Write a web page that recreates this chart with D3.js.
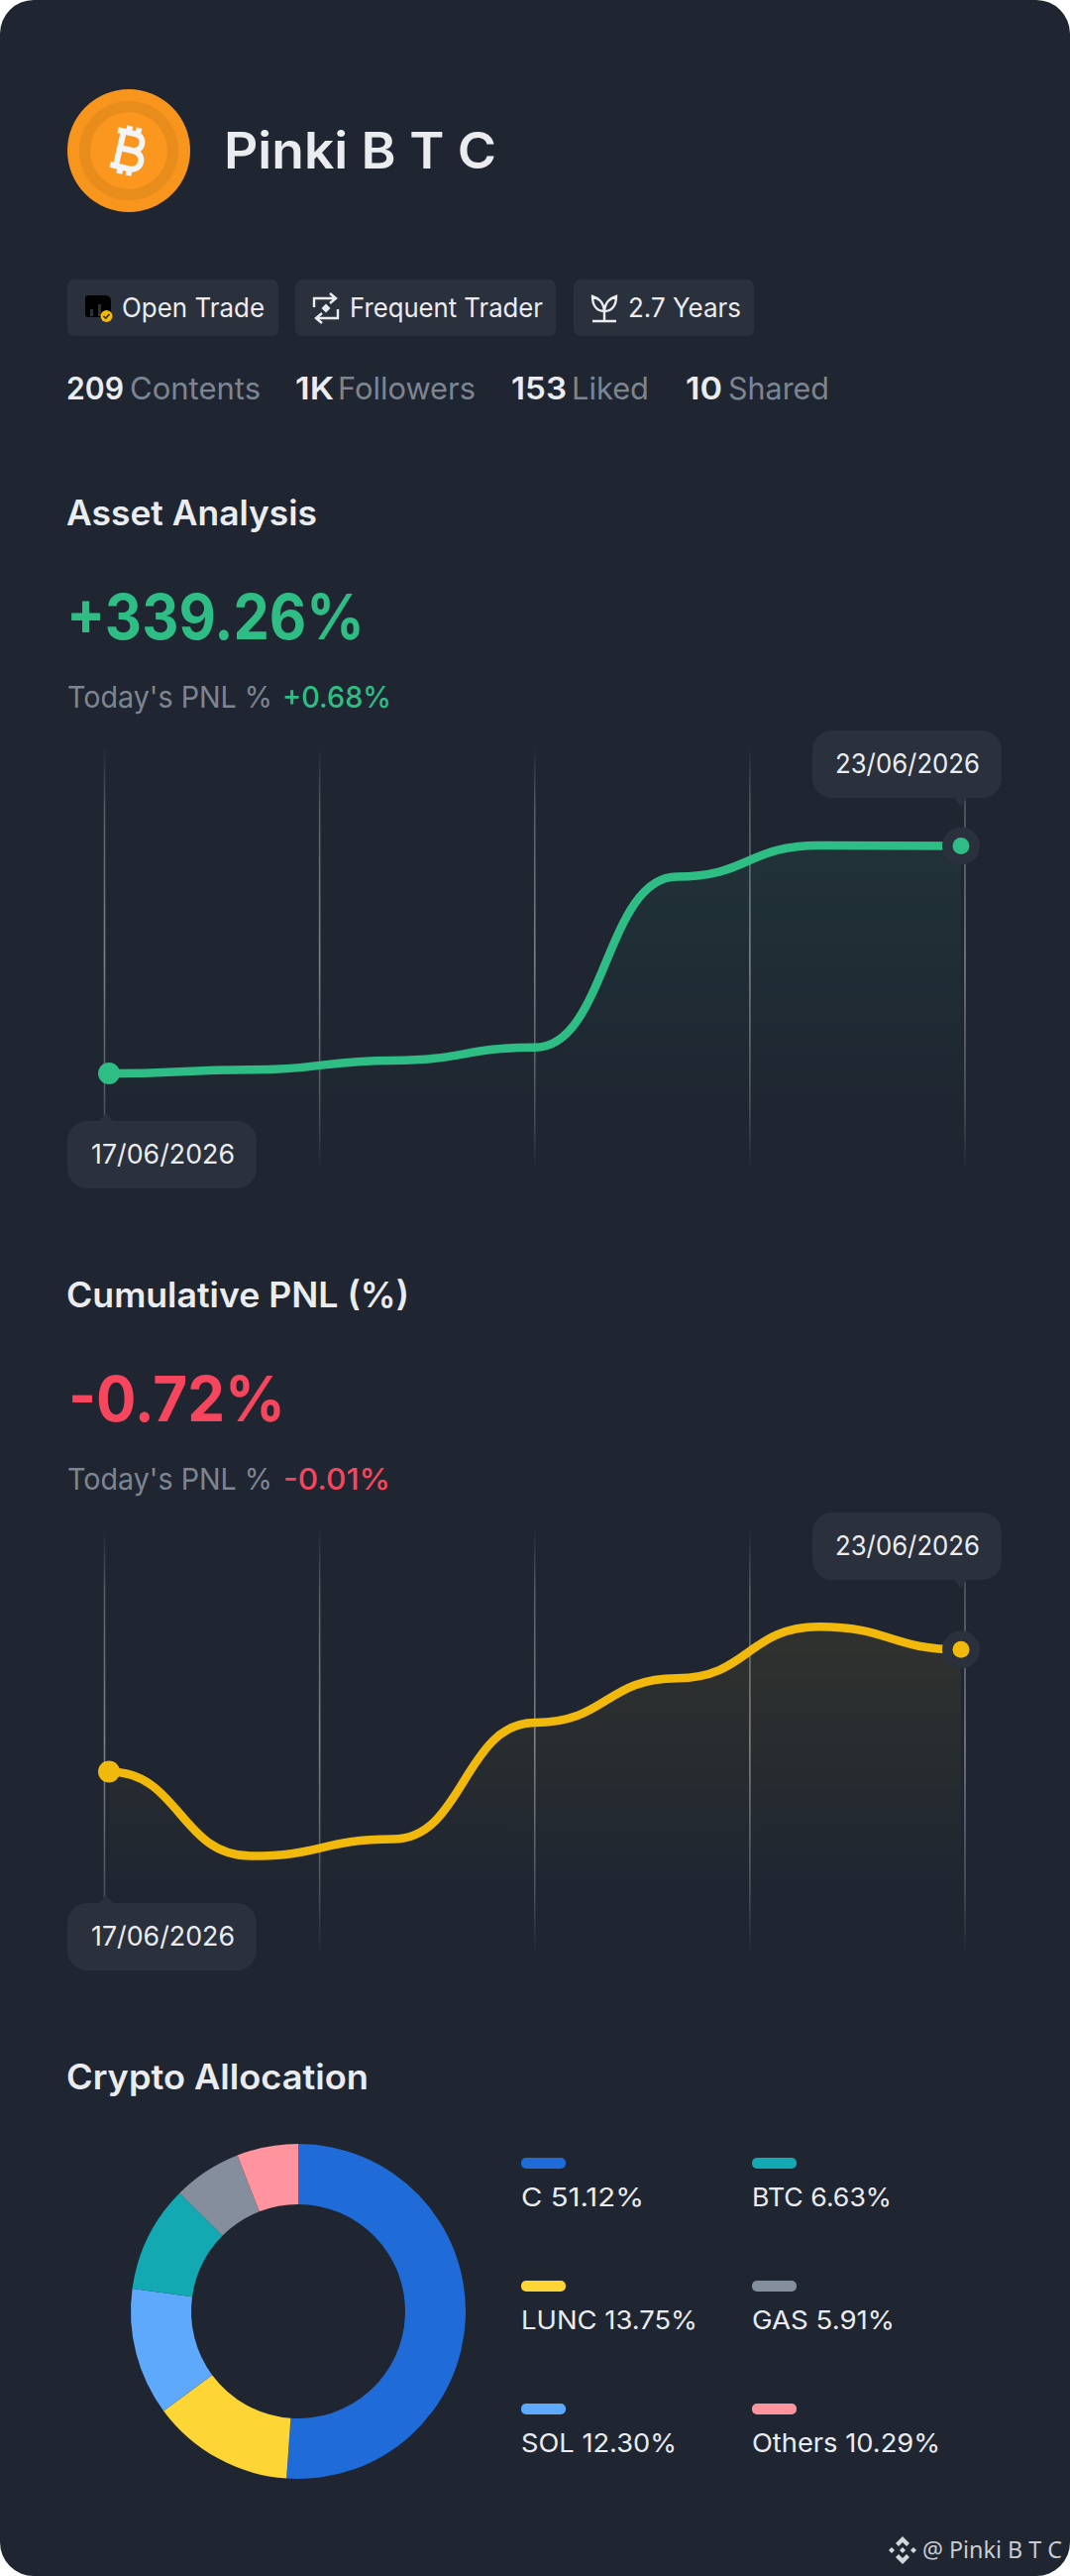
<!DOCTYPE html>
<html>
<head>
<meta charset="utf-8">
<script src="https://cdnjs.cloudflare.com/ajax/libs/d3/7.8.5/d3.min.js"></script>
<style>
  html, body { margin: 0; padding: 0; background: #fff; }
  svg { display: block; }
  text { font-family: Inter, Lato, sans-serif; }
</style>
</head>
<body>
<div id="chart"></div>
<script>
// data
const profileName = "Pinki B T C";
const badgeLabels = ["Open Trade", "Frequent Trader", "2.7 Years"];
const statValues = ["209", "1K", "153", "10"];
const statLabels = ["Contents", "Followers", "Liked", "Shared"];

const days = ["17/06", "18/06", "19/06", "20/06", "21/06", "22/06", "23/06"];
const gridSteps = [0, 1, 2, 3, 4];
const assetValues = [0, 1.6, 5.7, 11.4, 86.3, 100, 99.8];
const pnlValues = [-0.7735, -0.8104, -0.803, -0.752, -0.7325, -0.71, -0.72];

const sliceNames = ["C", "LUNC", "SOL", "Others", "BTC", "GAS"];
const sliceValues = [51.12, 13.75, 12.3, 10.29, 6.63, 5.91];
const sliceColors = ["#1f6cd8", "#fdd535", "#5ea9fb", "#12a9b3", "#848e9c", "#ff949f"];

const legendNames = ["C", "LUNC", "SOL", "BTC", "GAS", "Others"];
const legendValues = ["51.12%", "13.75%", "12.30%", "6.63%", "5.91%", "10.29%"];
const legendColors = ["#1f6cd8", "#fdd535", "#5ea9fb", "#12a9b3", "#848e9c", "#ff949f"];

////////////////////////////  Init  ////////////////////////////
const width = 1080;
const height = 2599;
const bg = "#1f2631";
const chip = "#2a303c";
const white = "#eaecef";
const muted = "#7d8592";
const green = "#2ebd85";
const red = "#f6465d";
const yellow = "#f0b90b";

const svg = d3.select("#chart").append("svg")
  .attr("width", width)
  .attr("height", height);
const defs = svg.append("defs");

svg.append("rect")
  .attr("width", width)
  .attr("height", height)
  .attr("rx", 34)
  .attr("fill", bg);

// w is the width the string takes in the picture
function label(x, y, str, size, color, weight, w) {
  const t = svg.append("text")
    .attr("x", x)
    .attr("y", y)
    .attr("font-size", size)
    .attr("font-weight", weight || 400)
    .attr("fill", color)
    .text(str);
  if (w) t.attr("textLength", w).attr("lengthAdjust", "spacingAndGlyphs");
  return t;
}

////////////////////////////  Header  ////////////////////////////
const avatar = svg.append("g").attr("transform", "translate(130,152)");
avatar.append("circle").attr("r", 62).attr("fill", "#f7951d");
avatar.append("circle").attr("r", 50).attr("fill", "#e88c1c");
avatar.append("circle").attr("r", 39).attr("fill", "#fb971f");
const coin = avatar.append("g").attr("transform", "rotate(13) scale(.85)");
coin.append("path")
  .attr("d", "M-11,-21V21M-11,-21H3C17,-21 17,-1 3,-1H-11M-11,-1H5C21,-1 21,21 5,21H-11M-18,-21H-8M-18,21H-8M-5,-29V-21M6,-29V-21M-5,21V29M6,21V29")
  .attr("fill", "none")
  .attr("stroke", "#f3f4f5")
  .attr("stroke-width", 7);

label(226, 170, profileName, 51, white, 600, 275);

// badges
const badgeX = [68, 298, 579];
const badgeW = [213, 263, 182];
const badgeTextX = [123, 353, 634];
const badgeTextW = [144, 195, 114];
badgeLabels.forEach((d, i) => {
  svg.append("rect")
    .attr("x", badgeX[i]).attr("y", 282)
    .attr("width", badgeW[i]).attr("height", 57)
    .attr("rx", 7).attr("fill", chip);
  label(badgeTextX[i], 320, d, 27, white, 400, badgeTextW[i]);
});

// open trade icon
const tradeIcon = svg.append("g").attr("transform", "translate(86,298)");
tradeIcon.append("path")
  .attr("d", "M3,0H20Q26,0 26,6V22H3Q0,22 0,19V3Q0,0 3,0Z")
  .attr("fill", "#000");
tradeIcon.append("path")
  .attr("d", "M5,14H8V21H5ZM13,9H16V21H13Z")
  .attr("fill", chip);
tradeIcon.append("circle").attr("cx", 21.5).attr("cy", 21).attr("r", 6).attr("fill", yellow);
tradeIcon.append("path")
  .attr("d", "M18.5,21L20.7,23L24.5,19")
  .attr("fill", "none").attr("stroke", "#222").attr("stroke-width", 1.6);

// frequent trader icon
const freqIcon = svg.append("g")
  .attr("transform", "translate(329,311)")
  .attr("fill", "none")
  .attr("stroke", white)
  .attr("stroke-width", 2.4);
freqIcon.append("path").attr("d", "M-12,-1V-10H10M4,-15L10,-10L4,-5");
freqIcon.append("path").attr("d", "M12,1V10H-10M-4,15L-10,10L-4,5");
freqIcon.append("path").attr("d", "M0,-4.5L4.5,0L0,4.5L-4.5,0Z").attr("fill", white).attr("stroke", "none");

// tenure icon
const plantIcon = svg.append("g")
  .attr("transform", "translate(610,311)")
  .attr("fill", "none")
  .attr("stroke", white)
  .attr("stroke-width", 2.4);
plantIcon.append("path").attr("d", "M0,3V13M-12,13H12");
plantIcon.append("path").attr("d", "M0,3C-8,3 -12,-3 -12,-12C-6,-10 -1,-7 0,3C1,-7 6,-10 12,-12C12,-3 8,3 0,3");

// stats row
const statX = [67, 298, 516, 692];
const statW = [58, 39, 56, 37];
const statLabelX = [131, 341, 577, 735];
const statLabelW = [132, 139, 78, 102];
statValues.forEach((d, i) => {
  label(statX[i], 403, d, 31, white, 600, statW[i]);
  label(statLabelX[i], 403, statLabels[i], 31, muted, 400, statLabelW[i]);
});

////////////////////////////  Line sections  ////////////////////////////
const x = d3.scalePoint().domain(days).range([110, 970]);
const xGrid = d3.scalePoint().domain(gridSteps).range([105.5, 974]);

const gridStops = [[0, 0], [0.15, 0.25], [0.5, 0.42], [0.85, 0.2], [1, 0]];
const gridGradient = (id, y0, y1) => {
  const g = defs.append("linearGradient").attr("id", id)
    .attr("gradientUnits", "userSpaceOnUse")
    .attr("x1", 0).attr("x2", 0).attr("y1", y0).attr("y2", y1);
  gridStops.forEach((s) => {
    g.append("stop").attr("offset", s[0]).attr("stop-color", "#fff").attr("stop-opacity", s[1]);
  });
};

function tooltip(x0, y0, str, pointerX, pointerUp, textX, textW) {
  const tip = svg.append("g");
  tip.append("path")
    .attr("d", pointerUp
      ? `M${pointerX - 6},${y0 + 1}L${pointerX + 2},${y0 - 8}L${pointerX + 10},${y0 + 1}Z`
      : `M${pointerX - 8},${y0 + 67}L${pointerX - 1},${y0 + 77}L${pointerX + 5},${y0 + 67}Z`)
    .attr("fill", chip);
  tip.append("rect")
    .attr("x", x0).attr("y", y0)
    .attr("width", 191).attr("height", 68)
    .attr("rx", 20).attr("fill", chip);
  label(textX, y0 + 43, str, 27, white, 400, textW);
}

function lineSection(o) {
  const dy = o.offset;
  label(67, 529.5 + dy, o.title, 35, white, 600, o.titleW);
  label(o.valueX, 645 + dy, o.value, 63, o.valueColor, 700, o.valueW);
  label(68, 713.5 + dy, "Today's PNL %", 30, muted, 400, 207);
  label(o.todayX, 713.5 + dy, o.today, 30, o.valueColor, 500, o.todayW);

  const y = d3.scaleLinear().domain(o.domain).range(o.range);

  gridGradient(o.id + "-grid", 753 + dy, 1182 + dy);
  svg.append("g").selectAll("line")
    .data(gridSteps)
    .join("line")
    .attr("x1", (d) => xGrid(d))
    .attr("x2", (d) => xGrid(d))
    .attr("y1", 753 + dy)
    .attr("y2", 1182 + dy)
    .attr("stroke", `url(#${o.id}-grid)`)
    .attr("stroke-width", 1.6);

  const fade = defs.append("linearGradient").attr("id", o.id + "-area")
    .attr("gradientUnits", "userSpaceOnUse")
    .attr("x1", 0).attr("x2", 0)
    .attr("y1", o.range[1]).attr("y2", 1182 + dy);
  fade.append("stop").attr("offset", 0).attr("stop-color", o.color).attr("stop-opacity", 0.08);
  fade.append("stop").attr("offset", 0.8).attr("stop-color", o.color).attr("stop-opacity", 0);

  const area = d3.area()
    .curve(d3.curveBumpX)
    .x((d, i) => x(days[i]))
    .y0(1182 + dy)
    .y1((d) => y(d));
  svg.append("path")
    .datum(o.values)
    .attr("d", area)
    .attr("fill", `url(#${o.id}-area)`);

  const line = d3.line()
    .curve(d3.curveBumpX)
    .x((d, i) => x(days[i]))
    .y((d) => y(d));
  svg.append("path")
    .datum(o.values)
    .attr("d", line)
    .attr("fill", "none")
    .attr("stroke", o.color)
    .attr("stroke-width", 8.5)
    .attr("stroke-linecap", "round");

  const last = o.values.length - 1;
  svg.append("circle")
    .attr("cx", x(days[0])).attr("cy", y(o.values[0]))
    .attr("r", 11).attr("fill", o.color);
  svg.append("circle")
    .attr("cx", x(days[last])).attr("cy", y(o.values[last]))
    .attr("r", 19).attr("fill", chip);
  svg.append("circle")
    .attr("cx", x(days[last])).attr("cy", y(o.values[last]))
    .attr("r", 8.5).attr("fill", o.color);

  tooltip(820, 737 + dy, "23/06/2026", 971, false, 843, 146);
  tooltip(68, 1131 + dy, "17/06/2026", 105, true, 92, 145);
}

lineSection({
  id: "asset",
  offset: 0,
  title: "Asset Analysis",
  titleW: 253,
  value: "+339.26%",
  valueX: 67,
  valueW: 301,
  today: "+0.68%",
  todayX: 285,
  todayW: 110,
  valueColor: green,
  color: green,
  values: assetValues,
  domain: [0, 100],
  range: [1083, 853],
});

lineSection({
  id: "pnl",
  offset: 789,
  title: "Cumulative PNL (%)",
  titleW: 346,
  value: "-0.72%",
  valueX: 69,
  valueW: 219,
  today: "-0.01%",
  todayX: 286,
  todayW: 108,
  valueColor: red,
  color: yellow,
  values: pnlValues,
  domain: [-0.8104, -0.71],
  range: [1872.6, 1641.3],
});

////////////////////////////  Donut  ////////////////////////////
label(67, 2108, "Crypto Allocation", 35, white, 600, 305);

const pie = d3.pie().sort(null).value((d) => d);
const arc = d3.arc().innerRadius(108).outerRadius(169);
svg.append("g")
  .attr("transform", "translate(301,2332)")
  .selectAll("path")
  .data(pie(sliceValues))
  .join("path")
  .attr("d", arc)
  .attr("fill", (d, i) => sliceColors[i]);

// legend, 3 rows by 2 columns
const legendW = [124, 178, 157, 141, 144, 190];
legendNames.forEach((d, i) => {
  const lx = i < 3 ? 526 : 759;
  const ly = 2177 + (i % 3) * 124;
  svg.append("rect")
    .attr("x", lx).attr("y", ly)
    .attr("width", 45).attr("height", 11)
    .attr("rx", 5).attr("fill", legendColors[i]);
  label(lx, ly + 49, `${d}\u00a0${legendValues[i]}`, 26, white, 400, legendW[i]);
});

////////////////////////////  Footer  ////////////////////////////
const logo = svg.append("g")
  .attr("transform", "translate(911,2573)")
  .attr("fill", "#d5d8dc");
logo.append("path").attr("d", "M0,-14L7,-7L4,-4L0,-8L-4,-4L-7,-7Z");
logo.append("path").attr("d", "M0,14L7,7L4,4L0,8L-4,4L-7,7Z");
logo.append("path").attr("d", "M-14,0L-11,-3L-8,0L-11,3Z");
logo.append("path").attr("d", "M14,0L11,-3L8,0L11,3Z");
logo.append("path").attr("d", "M0,-3L3,0L0,3L-3,0Z");
label(931, 2581, "@ " + profileName, 23, "#c9ccd1", 400, 141).style("font-family", "'Noto Sans'");
</script>
</body>
</html>
